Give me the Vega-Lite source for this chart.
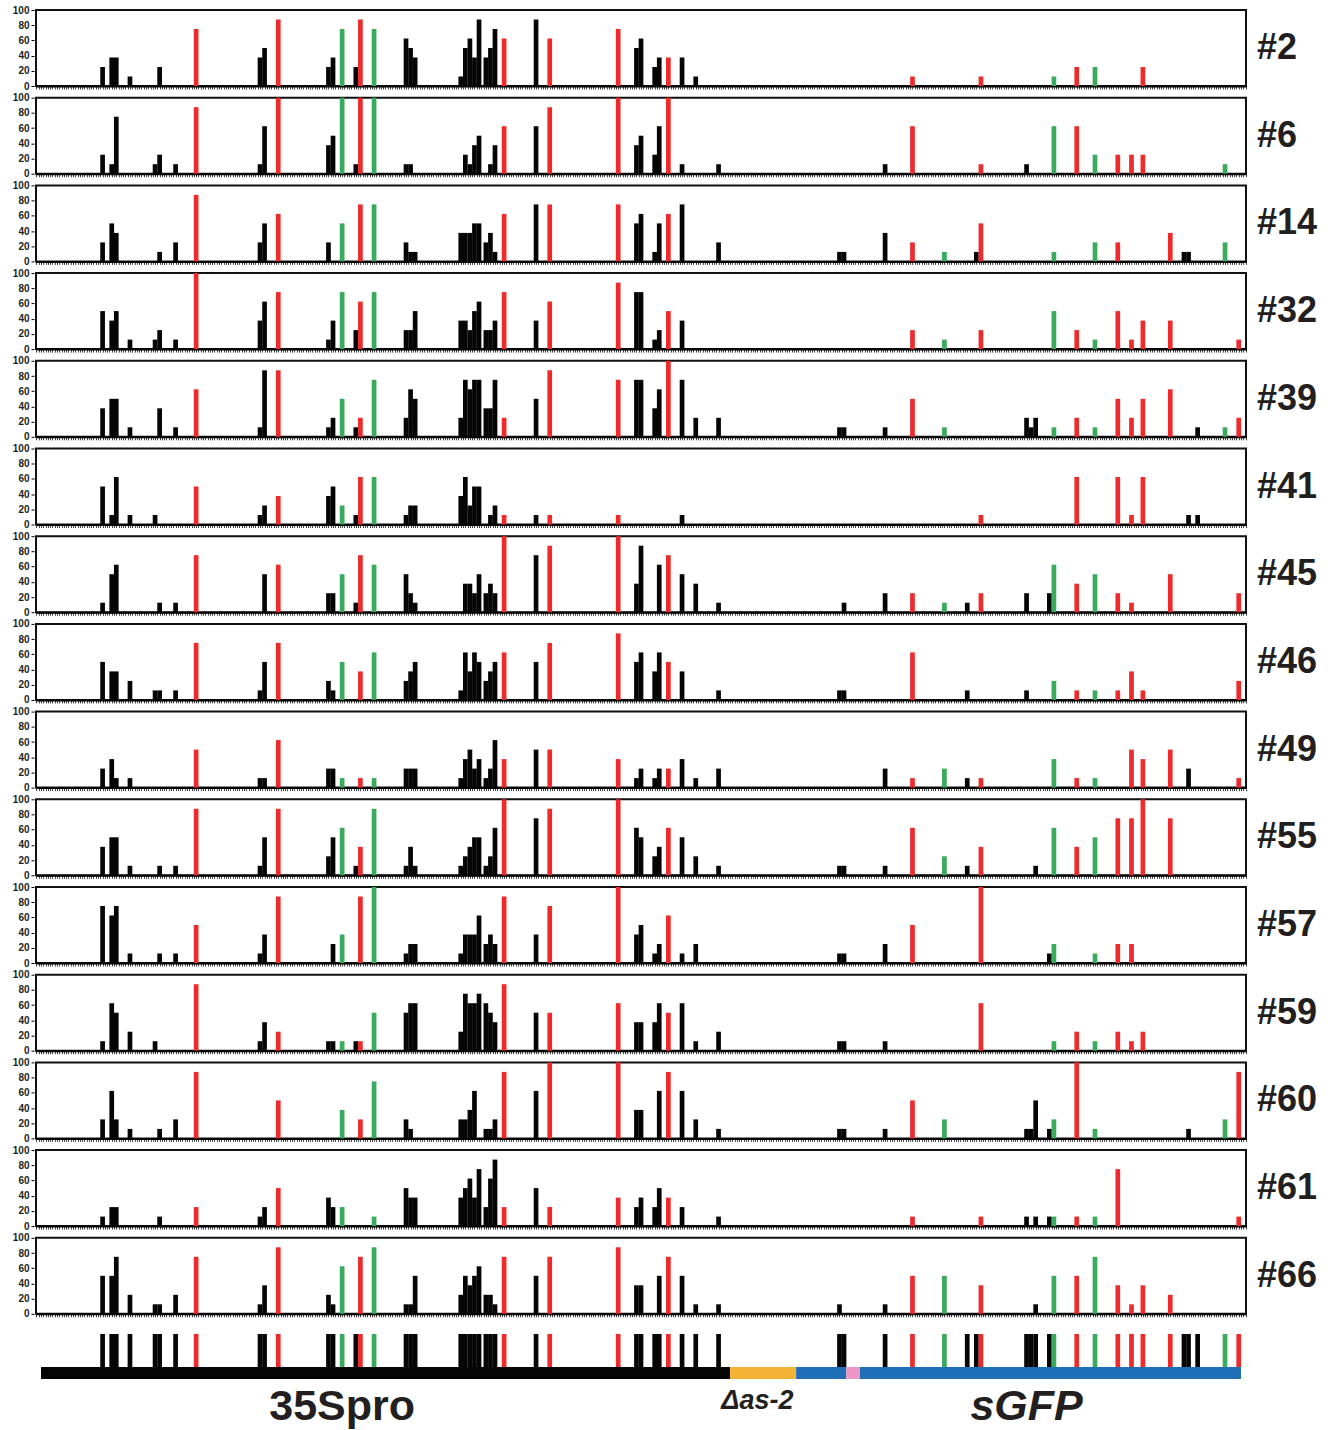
{
"$schema": "https://vega.github.io/schema/vega-lite/v6.json",
"background": "white",
"padding": {"left": 12, "top": 5, "right": 0, "bottom": 0},
"config": {
  "font": "Liberation Sans",
  "view": {"stroke": "#111111", "strokeWidth": 2},
  "axis": {"labelFont": "Liberation Sans", "labelColor": "#231f20", "grid": false}
},
"datasets": {
"sites": [
{"p":27,"t":"CG"},{"p":31,"t":"CG"},{"p":33,"t":"CG"},{"p":39,"t":"CG"},{"p":50,"t":"CG"},{"p":52,"t":"CG"},{"p":59,"t":"CG"},{"p":68,"t":"CHH"},{"p":96,"t":"CG"},{"p":98,"t":"CG"},{"p":104,"t":"CHH"},{"p":126,"t":"CG"},{"p":128,"t":"CG"},{"p":132,"t":"CHG"},{"p":138,"t":"CG"},{"p":140,"t":"CHH"},{"p":146,"t":"CHG"},{"p":160,"t":"CG"},{"p":162,"t":"CG"},{"p":164,"t":"CG"},{"p":184,"t":"CG"},{"p":186,"t":"CG"},{"p":188,"t":"CG"},{"p":190,"t":"CG"},{"p":192,"t":"CG"},{"p":195,"t":"CG"},{"p":197,"t":"CG"},{"p":199,"t":"CG"},{"p":203,"t":"CHH"},{"p":217,"t":"CG"},{"p":223,"t":"CHH"},{"p":253,"t":"CHH"},{"p":261,"t":"CG"},{"p":263,"t":"CG"},{"p":269,"t":"CG"},{"p":271,"t":"CG"},{"p":275,"t":"CHH"},{"p":281,"t":"CG"},{"p":287,"t":"CG"},{"p":297,"t":"CG"},{"p":350,"t":"CG"},{"p":352,"t":"CG"},{"p":370,"t":"CG"},{"p":382,"t":"CHH"},{"p":396,"t":"CHG"},{"p":406,"t":"CG"},{"p":410,"t":"CG"},{"p":412,"t":"CHH"},{"p":432,"t":"CG"},{"p":434,"t":"CG"},{"p":436,"t":"CG"},{"p":442,"t":"CG"},{"p":444,"t":"CHG"},{"p":454,"t":"CHH"},{"p":462,"t":"CHG"},{"p":472,"t":"CHH"},{"p":478,"t":"CHH"},{"p":483,"t":"CHH"},{"p":495,"t":"CHH"},{"p":501,"t":"CG"},{"p":503,"t":"CG"},{"p":507,"t":"CG"},{"p":519,"t":"CHG"},{"p":525,"t":"CHH"}
],
"parts": [
{"s":0,"e":302,"part":"35Spro"},{"s":302,"e":331,"part":"as2"},{"s":331,"e":353,"part":"sGFP"},{"s":353,"e":359,"part":"linker"},{"s":359,"e":526,"part":"sGFP"}
],
"bars": [
{"c":"#2","p":27,"v":25},{"c":"#2","p":31,"v":37.5},{"c":"#2","p":33,"v":37.5},{"c":"#2","p":39,"v":12.5},{"c":"#2","p":52,"v":25},{"c":"#2","p":68,"v":75},{"c":"#2","p":96,"v":37.5},{"c":"#2","p":98,"v":50},{"c":"#2","p":104,"v":87.5},{"c":"#2","p":126,"v":25},{"c":"#2","p":128,"v":37.5},{"c":"#2","p":132,"v":75},{"c":"#2","p":138,"v":25},{"c":"#2","p":140,"v":87.5},{"c":"#2","p":146,"v":75},{"c":"#2","p":160,"v":62.5},{"c":"#2","p":162,"v":50},{"c":"#2","p":164,"v":37.5},{"c":"#2","p":184,"v":12.5},{"c":"#2","p":186,"v":50},{"c":"#2","p":188,"v":62.5},{"c":"#2","p":190,"v":37.5},{"c":"#2","p":192,"v":87.5},{"c":"#2","p":195,"v":37.5},{"c":"#2","p":197,"v":50},{"c":"#2","p":199,"v":75},{"c":"#2","p":203,"v":62.5},{"c":"#2","p":217,"v":87.5},{"c":"#2","p":223,"v":62.5},{"c":"#2","p":253,"v":75},{"c":"#2","p":261,"v":50},{"c":"#2","p":263,"v":62.5},{"c":"#2","p":269,"v":25},{"c":"#2","p":271,"v":37.5},{"c":"#2","p":275,"v":37.5},{"c":"#2","p":281,"v":37.5},{"c":"#2","p":287,"v":12.5},{"c":"#2","p":382,"v":12.5},{"c":"#2","p":412,"v":12.5},{"c":"#2","p":444,"v":12.5},{"c":"#2","p":454,"v":25},{"c":"#2","p":462,"v":25},{"c":"#2","p":483,"v":25},
{"c":"#6","p":27,"v":25},{"c":"#6","p":31,"v":12.5},{"c":"#6","p":33,"v":75},{"c":"#6","p":50,"v":12.5},{"c":"#6","p":52,"v":25},{"c":"#6","p":59,"v":12.5},{"c":"#6","p":68,"v":87.5},{"c":"#6","p":96,"v":12.5},{"c":"#6","p":98,"v":62.5},{"c":"#6","p":104,"v":100},{"c":"#6","p":126,"v":37.5},{"c":"#6","p":128,"v":50},{"c":"#6","p":132,"v":100},{"c":"#6","p":138,"v":12.5},{"c":"#6","p":140,"v":100},{"c":"#6","p":146,"v":100},{"c":"#6","p":160,"v":12.5},{"c":"#6","p":162,"v":12.5},{"c":"#6","p":186,"v":25},{"c":"#6","p":188,"v":12.5},{"c":"#6","p":190,"v":37.5},{"c":"#6","p":192,"v":50},{"c":"#6","p":197,"v":12.5},{"c":"#6","p":199,"v":37.5},{"c":"#6","p":203,"v":62.5},{"c":"#6","p":217,"v":62.5},{"c":"#6","p":223,"v":87.5},{"c":"#6","p":253,"v":100},{"c":"#6","p":261,"v":37.5},{"c":"#6","p":263,"v":50},{"c":"#6","p":269,"v":25},{"c":"#6","p":271,"v":62.5},{"c":"#6","p":275,"v":100},{"c":"#6","p":281,"v":12.5},{"c":"#6","p":297,"v":12.5},{"c":"#6","p":370,"v":12.5},{"c":"#6","p":382,"v":62.5},{"c":"#6","p":412,"v":12.5},{"c":"#6","p":432,"v":12.5},{"c":"#6","p":444,"v":62.5},{"c":"#6","p":454,"v":62.5},{"c":"#6","p":462,"v":25},{"c":"#6","p":472,"v":25},{"c":"#6","p":478,"v":25},{"c":"#6","p":483,"v":25},{"c":"#6","p":519,"v":12.5},
{"c":"#14","p":27,"v":25},{"c":"#14","p":31,"v":50},{"c":"#14","p":33,"v":37.5},{"c":"#14","p":52,"v":12.5},{"c":"#14","p":59,"v":25},{"c":"#14","p":68,"v":87.5},{"c":"#14","p":96,"v":25},{"c":"#14","p":98,"v":50},{"c":"#14","p":104,"v":62.5},{"c":"#14","p":126,"v":25},{"c":"#14","p":132,"v":50},{"c":"#14","p":140,"v":75},{"c":"#14","p":146,"v":75},{"c":"#14","p":160,"v":25},{"c":"#14","p":162,"v":12.5},{"c":"#14","p":164,"v":12.5},{"c":"#14","p":184,"v":37.5},{"c":"#14","p":186,"v":37.5},{"c":"#14","p":188,"v":37.5},{"c":"#14","p":190,"v":50},{"c":"#14","p":192,"v":50},{"c":"#14","p":195,"v":25},{"c":"#14","p":197,"v":37.5},{"c":"#14","p":199,"v":12.5},{"c":"#14","p":203,"v":62.5},{"c":"#14","p":217,"v":75},{"c":"#14","p":223,"v":75},{"c":"#14","p":253,"v":75},{"c":"#14","p":261,"v":50},{"c":"#14","p":263,"v":62.5},{"c":"#14","p":269,"v":12.5},{"c":"#14","p":271,"v":50},{"c":"#14","p":275,"v":62.5},{"c":"#14","p":281,"v":75},{"c":"#14","p":297,"v":25},{"c":"#14","p":350,"v":12.5},{"c":"#14","p":352,"v":12.5},{"c":"#14","p":370,"v":37.5},{"c":"#14","p":382,"v":25},{"c":"#14","p":396,"v":12.5},{"c":"#14","p":410,"v":12.5},{"c":"#14","p":412,"v":50},{"c":"#14","p":444,"v":12.5},{"c":"#14","p":462,"v":25},{"c":"#14","p":472,"v":25},{"c":"#14","p":495,"v":37.5},{"c":"#14","p":501,"v":12.5},{"c":"#14","p":503,"v":12.5},{"c":"#14","p":519,"v":25},
{"c":"#32","p":27,"v":50},{"c":"#32","p":31,"v":37.5},{"c":"#32","p":33,"v":50},{"c":"#32","p":39,"v":12.5},{"c":"#32","p":50,"v":12.5},{"c":"#32","p":52,"v":25},{"c":"#32","p":59,"v":12.5},{"c":"#32","p":68,"v":100},{"c":"#32","p":96,"v":37.5},{"c":"#32","p":98,"v":62.5},{"c":"#32","p":104,"v":75},{"c":"#32","p":126,"v":12.5},{"c":"#32","p":128,"v":37.5},{"c":"#32","p":132,"v":75},{"c":"#32","p":138,"v":25},{"c":"#32","p":140,"v":62.5},{"c":"#32","p":146,"v":75},{"c":"#32","p":160,"v":25},{"c":"#32","p":162,"v":25},{"c":"#32","p":164,"v":50},{"c":"#32","p":184,"v":37.5},{"c":"#32","p":186,"v":37.5},{"c":"#32","p":188,"v":25},{"c":"#32","p":190,"v":50},{"c":"#32","p":192,"v":62.5},{"c":"#32","p":195,"v":25},{"c":"#32","p":197,"v":25},{"c":"#32","p":199,"v":37.5},{"c":"#32","p":203,"v":75},{"c":"#32","p":217,"v":37.5},{"c":"#32","p":223,"v":62.5},{"c":"#32","p":253,"v":87.5},{"c":"#32","p":261,"v":75},{"c":"#32","p":263,"v":75},{"c":"#32","p":269,"v":12.5},{"c":"#32","p":271,"v":25},{"c":"#32","p":275,"v":50},{"c":"#32","p":281,"v":37.5},{"c":"#32","p":382,"v":25},{"c":"#32","p":396,"v":12.5},{"c":"#32","p":412,"v":25},{"c":"#32","p":444,"v":50},{"c":"#32","p":454,"v":25},{"c":"#32","p":462,"v":12.5},{"c":"#32","p":472,"v":50},{"c":"#32","p":478,"v":12.5},{"c":"#32","p":483,"v":37.5},{"c":"#32","p":495,"v":37.5},{"c":"#32","p":525,"v":12.5},
{"c":"#39","p":27,"v":37.5},{"c":"#39","p":31,"v":50},{"c":"#39","p":33,"v":50},{"c":"#39","p":39,"v":12.5},{"c":"#39","p":52,"v":37.5},{"c":"#39","p":59,"v":12.5},{"c":"#39","p":68,"v":62.5},{"c":"#39","p":96,"v":12.5},{"c":"#39","p":98,"v":87.5},{"c":"#39","p":104,"v":87.5},{"c":"#39","p":126,"v":12.5},{"c":"#39","p":128,"v":25},{"c":"#39","p":132,"v":50},{"c":"#39","p":138,"v":12.5},{"c":"#39","p":140,"v":25},{"c":"#39","p":146,"v":75},{"c":"#39","p":160,"v":25},{"c":"#39","p":162,"v":62.5},{"c":"#39","p":164,"v":50},{"c":"#39","p":184,"v":25},{"c":"#39","p":186,"v":75},{"c":"#39","p":188,"v":62.5},{"c":"#39","p":190,"v":75},{"c":"#39","p":192,"v":75},{"c":"#39","p":195,"v":37.5},{"c":"#39","p":197,"v":37.5},{"c":"#39","p":199,"v":75},{"c":"#39","p":203,"v":25},{"c":"#39","p":217,"v":50},{"c":"#39","p":223,"v":87.5},{"c":"#39","p":253,"v":75},{"c":"#39","p":261,"v":75},{"c":"#39","p":263,"v":75},{"c":"#39","p":269,"v":37.5},{"c":"#39","p":271,"v":62.5},{"c":"#39","p":275,"v":100},{"c":"#39","p":281,"v":75},{"c":"#39","p":287,"v":25},{"c":"#39","p":297,"v":25},{"c":"#39","p":350,"v":12.5},{"c":"#39","p":352,"v":12.5},{"c":"#39","p":370,"v":12.5},{"c":"#39","p":382,"v":50},{"c":"#39","p":396,"v":12.5},{"c":"#39","p":432,"v":25},{"c":"#39","p":434,"v":12.5},{"c":"#39","p":436,"v":25},{"c":"#39","p":444,"v":12.5},{"c":"#39","p":454,"v":25},{"c":"#39","p":462,"v":12.5},{"c":"#39","p":472,"v":50},{"c":"#39","p":478,"v":25},{"c":"#39","p":483,"v":50},{"c":"#39","p":495,"v":62.5},{"c":"#39","p":507,"v":12.5},{"c":"#39","p":519,"v":12.5},{"c":"#39","p":525,"v":25},
{"c":"#41","p":27,"v":50},{"c":"#41","p":31,"v":12.5},{"c":"#41","p":33,"v":62.5},{"c":"#41","p":39,"v":12.5},{"c":"#41","p":50,"v":12.5},{"c":"#41","p":68,"v":50},{"c":"#41","p":96,"v":12.5},{"c":"#41","p":98,"v":25},{"c":"#41","p":104,"v":37.5},{"c":"#41","p":126,"v":37.5},{"c":"#41","p":128,"v":50},{"c":"#41","p":132,"v":25},{"c":"#41","p":138,"v":12.5},{"c":"#41","p":140,"v":62.5},{"c":"#41","p":146,"v":62.5},{"c":"#41","p":160,"v":12.5},{"c":"#41","p":162,"v":25},{"c":"#41","p":164,"v":25},{"c":"#41","p":184,"v":37.5},{"c":"#41","p":186,"v":62.5},{"c":"#41","p":188,"v":25},{"c":"#41","p":190,"v":50},{"c":"#41","p":192,"v":50},{"c":"#41","p":197,"v":12.5},{"c":"#41","p":199,"v":25},{"c":"#41","p":203,"v":12.5},{"c":"#41","p":217,"v":12.5},{"c":"#41","p":223,"v":12.5},{"c":"#41","p":253,"v":12.5},{"c":"#41","p":281,"v":12.5},{"c":"#41","p":412,"v":12.5},{"c":"#41","p":454,"v":62.5},{"c":"#41","p":472,"v":62.5},{"c":"#41","p":478,"v":12.5},{"c":"#41","p":483,"v":62.5},{"c":"#41","p":503,"v":12.5},{"c":"#41","p":507,"v":12.5},
{"c":"#45","p":27,"v":12.5},{"c":"#45","p":31,"v":50},{"c":"#45","p":33,"v":62.5},{"c":"#45","p":52,"v":12.5},{"c":"#45","p":59,"v":12.5},{"c":"#45","p":68,"v":75},{"c":"#45","p":98,"v":50},{"c":"#45","p":104,"v":62.5},{"c":"#45","p":126,"v":25},{"c":"#45","p":128,"v":25},{"c":"#45","p":132,"v":50},{"c":"#45","p":138,"v":12.5},{"c":"#45","p":140,"v":75},{"c":"#45","p":146,"v":62.5},{"c":"#45","p":160,"v":50},{"c":"#45","p":162,"v":25},{"c":"#45","p":164,"v":12.5},{"c":"#45","p":186,"v":37.5},{"c":"#45","p":188,"v":37.5},{"c":"#45","p":190,"v":25},{"c":"#45","p":192,"v":50},{"c":"#45","p":195,"v":25},{"c":"#45","p":197,"v":37.5},{"c":"#45","p":199,"v":25},{"c":"#45","p":203,"v":100},{"c":"#45","p":217,"v":75},{"c":"#45","p":223,"v":87.5},{"c":"#45","p":253,"v":100},{"c":"#45","p":261,"v":37.5},{"c":"#45","p":263,"v":87.5},{"c":"#45","p":271,"v":62.5},{"c":"#45","p":275,"v":75},{"c":"#45","p":281,"v":50},{"c":"#45","p":287,"v":37.5},{"c":"#45","p":297,"v":12.5},{"c":"#45","p":352,"v":12.5},{"c":"#45","p":370,"v":25},{"c":"#45","p":382,"v":25},{"c":"#45","p":396,"v":12.5},{"c":"#45","p":406,"v":12.5},{"c":"#45","p":412,"v":25},{"c":"#45","p":432,"v":25},{"c":"#45","p":442,"v":25},{"c":"#45","p":444,"v":62.5},{"c":"#45","p":454,"v":37.5},{"c":"#45","p":462,"v":50},{"c":"#45","p":472,"v":25},{"c":"#45","p":478,"v":12.5},{"c":"#45","p":495,"v":50},{"c":"#45","p":525,"v":25},
{"c":"#46","p":27,"v":50},{"c":"#46","p":31,"v":37.5},{"c":"#46","p":33,"v":37.5},{"c":"#46","p":39,"v":25},{"c":"#46","p":50,"v":12.5},{"c":"#46","p":52,"v":12.5},{"c":"#46","p":59,"v":12.5},{"c":"#46","p":68,"v":75},{"c":"#46","p":96,"v":12.5},{"c":"#46","p":98,"v":50},{"c":"#46","p":104,"v":75},{"c":"#46","p":126,"v":25},{"c":"#46","p":128,"v":12.5},{"c":"#46","p":132,"v":50},{"c":"#46","p":140,"v":37.5},{"c":"#46","p":146,"v":62.5},{"c":"#46","p":160,"v":25},{"c":"#46","p":162,"v":37.5},{"c":"#46","p":164,"v":50},{"c":"#46","p":184,"v":12.5},{"c":"#46","p":186,"v":62.5},{"c":"#46","p":188,"v":37.5},{"c":"#46","p":190,"v":62.5},{"c":"#46","p":192,"v":50},{"c":"#46","p":195,"v":25},{"c":"#46","p":197,"v":37.5},{"c":"#46","p":199,"v":50},{"c":"#46","p":203,"v":62.5},{"c":"#46","p":217,"v":50},{"c":"#46","p":223,"v":75},{"c":"#46","p":253,"v":87.5},{"c":"#46","p":261,"v":50},{"c":"#46","p":263,"v":62.5},{"c":"#46","p":269,"v":37.5},{"c":"#46","p":271,"v":62.5},{"c":"#46","p":275,"v":50},{"c":"#46","p":281,"v":37.5},{"c":"#46","p":297,"v":12.5},{"c":"#46","p":350,"v":12.5},{"c":"#46","p":352,"v":12.5},{"c":"#46","p":382,"v":62.5},{"c":"#46","p":406,"v":12.5},{"c":"#46","p":432,"v":12.5},{"c":"#46","p":444,"v":25},{"c":"#46","p":454,"v":12.5},{"c":"#46","p":462,"v":12.5},{"c":"#46","p":472,"v":12.5},{"c":"#46","p":478,"v":37.5},{"c":"#46","p":483,"v":12.5},{"c":"#46","p":525,"v":25},
{"c":"#49","p":27,"v":25},{"c":"#49","p":31,"v":37.5},{"c":"#49","p":33,"v":12.5},{"c":"#49","p":39,"v":12.5},{"c":"#49","p":68,"v":50},{"c":"#49","p":96,"v":12.5},{"c":"#49","p":98,"v":12.5},{"c":"#49","p":104,"v":62.5},{"c":"#49","p":126,"v":25},{"c":"#49","p":128,"v":25},{"c":"#49","p":132,"v":12.5},{"c":"#49","p":140,"v":12.5},{"c":"#49","p":146,"v":12.5},{"c":"#49","p":160,"v":25},{"c":"#49","p":162,"v":25},{"c":"#49","p":164,"v":25},{"c":"#49","p":184,"v":12.5},{"c":"#49","p":186,"v":37.5},{"c":"#49","p":188,"v":50},{"c":"#49","p":190,"v":25},{"c":"#49","p":192,"v":37.5},{"c":"#49","p":195,"v":12.5},{"c":"#49","p":197,"v":25},{"c":"#49","p":199,"v":62.5},{"c":"#49","p":203,"v":37.5},{"c":"#49","p":217,"v":50},{"c":"#49","p":223,"v":50},{"c":"#49","p":253,"v":37.5},{"c":"#49","p":261,"v":12.5},{"c":"#49","p":263,"v":25},{"c":"#49","p":269,"v":12.5},{"c":"#49","p":271,"v":25},{"c":"#49","p":275,"v":25},{"c":"#49","p":281,"v":37.5},{"c":"#49","p":287,"v":12.5},{"c":"#49","p":297,"v":25},{"c":"#49","p":370,"v":25},{"c":"#49","p":382,"v":12.5},{"c":"#49","p":396,"v":25},{"c":"#49","p":406,"v":12.5},{"c":"#49","p":412,"v":12.5},{"c":"#49","p":444,"v":37.5},{"c":"#49","p":454,"v":12.5},{"c":"#49","p":462,"v":12.5},{"c":"#49","p":478,"v":50},{"c":"#49","p":483,"v":37.5},{"c":"#49","p":495,"v":50},{"c":"#49","p":503,"v":25},{"c":"#49","p":525,"v":12.5},
{"c":"#55","p":27,"v":37.5},{"c":"#55","p":31,"v":50},{"c":"#55","p":33,"v":50},{"c":"#55","p":39,"v":12.5},{"c":"#55","p":52,"v":12.5},{"c":"#55","p":59,"v":12.5},{"c":"#55","p":68,"v":87.5},{"c":"#55","p":96,"v":12.5},{"c":"#55","p":98,"v":50},{"c":"#55","p":104,"v":87.5},{"c":"#55","p":126,"v":25},{"c":"#55","p":128,"v":50},{"c":"#55","p":132,"v":62.5},{"c":"#55","p":138,"v":12.5},{"c":"#55","p":140,"v":37.5},{"c":"#55","p":146,"v":87.5},{"c":"#55","p":160,"v":12.5},{"c":"#55","p":162,"v":37.5},{"c":"#55","p":164,"v":12.5},{"c":"#55","p":184,"v":12.5},{"c":"#55","p":186,"v":25},{"c":"#55","p":188,"v":37.5},{"c":"#55","p":190,"v":50},{"c":"#55","p":192,"v":50},{"c":"#55","p":195,"v":12.5},{"c":"#55","p":197,"v":25},{"c":"#55","p":199,"v":62.5},{"c":"#55","p":203,"v":100},{"c":"#55","p":217,"v":75},{"c":"#55","p":223,"v":87.5},{"c":"#55","p":253,"v":100},{"c":"#55","p":261,"v":62.5},{"c":"#55","p":263,"v":50},{"c":"#55","p":269,"v":25},{"c":"#55","p":271,"v":37.5},{"c":"#55","p":275,"v":62.5},{"c":"#55","p":281,"v":50},{"c":"#55","p":287,"v":25},{"c":"#55","p":297,"v":12.5},{"c":"#55","p":350,"v":12.5},{"c":"#55","p":352,"v":12.5},{"c":"#55","p":370,"v":12.5},{"c":"#55","p":382,"v":62.5},{"c":"#55","p":396,"v":25},{"c":"#55","p":406,"v":12.5},{"c":"#55","p":412,"v":37.5},{"c":"#55","p":436,"v":12.5},{"c":"#55","p":444,"v":62.5},{"c":"#55","p":454,"v":37.5},{"c":"#55","p":462,"v":50},{"c":"#55","p":472,"v":75},{"c":"#55","p":478,"v":75},{"c":"#55","p":483,"v":100},{"c":"#55","p":495,"v":75},
{"c":"#57","p":27,"v":75},{"c":"#57","p":31,"v":62.5},{"c":"#57","p":33,"v":75},{"c":"#57","p":39,"v":12.5},{"c":"#57","p":52,"v":12.5},{"c":"#57","p":59,"v":12.5},{"c":"#57","p":68,"v":50},{"c":"#57","p":96,"v":12.5},{"c":"#57","p":98,"v":37.5},{"c":"#57","p":104,"v":87.5},{"c":"#57","p":128,"v":25},{"c":"#57","p":132,"v":37.5},{"c":"#57","p":140,"v":87.5},{"c":"#57","p":146,"v":100},{"c":"#57","p":160,"v":12.5},{"c":"#57","p":162,"v":25},{"c":"#57","p":164,"v":25},{"c":"#57","p":184,"v":12.5},{"c":"#57","p":186,"v":37.5},{"c":"#57","p":188,"v":37.5},{"c":"#57","p":190,"v":37.5},{"c":"#57","p":192,"v":62.5},{"c":"#57","p":195,"v":25},{"c":"#57","p":197,"v":37.5},{"c":"#57","p":199,"v":25},{"c":"#57","p":203,"v":87.5},{"c":"#57","p":217,"v":37.5},{"c":"#57","p":223,"v":75},{"c":"#57","p":253,"v":100},{"c":"#57","p":261,"v":37.5},{"c":"#57","p":263,"v":50},{"c":"#57","p":269,"v":12.5},{"c":"#57","p":271,"v":25},{"c":"#57","p":275,"v":62.5},{"c":"#57","p":281,"v":12.5},{"c":"#57","p":287,"v":25},{"c":"#57","p":350,"v":12.5},{"c":"#57","p":352,"v":12.5},{"c":"#57","p":370,"v":25},{"c":"#57","p":382,"v":50},{"c":"#57","p":412,"v":100},{"c":"#57","p":442,"v":12.5},{"c":"#57","p":444,"v":25},{"c":"#57","p":462,"v":12.5},{"c":"#57","p":472,"v":25},{"c":"#57","p":478,"v":25},
{"c":"#59","p":27,"v":12.5},{"c":"#59","p":31,"v":62.5},{"c":"#59","p":33,"v":50},{"c":"#59","p":39,"v":25},{"c":"#59","p":50,"v":12.5},{"c":"#59","p":68,"v":87.5},{"c":"#59","p":96,"v":12.5},{"c":"#59","p":98,"v":37.5},{"c":"#59","p":104,"v":25},{"c":"#59","p":126,"v":12.5},{"c":"#59","p":128,"v":12.5},{"c":"#59","p":132,"v":12.5},{"c":"#59","p":138,"v":12.5},{"c":"#59","p":140,"v":12.5},{"c":"#59","p":146,"v":50},{"c":"#59","p":160,"v":50},{"c":"#59","p":162,"v":62.5},{"c":"#59","p":164,"v":62.5},{"c":"#59","p":184,"v":25},{"c":"#59","p":186,"v":75},{"c":"#59","p":188,"v":62.5},{"c":"#59","p":190,"v":62.5},{"c":"#59","p":192,"v":75},{"c":"#59","p":195,"v":62.5},{"c":"#59","p":197,"v":50},{"c":"#59","p":199,"v":37.5},{"c":"#59","p":203,"v":87.5},{"c":"#59","p":217,"v":50},{"c":"#59","p":223,"v":50},{"c":"#59","p":253,"v":62.5},{"c":"#59","p":261,"v":37.5},{"c":"#59","p":263,"v":37.5},{"c":"#59","p":269,"v":37.5},{"c":"#59","p":271,"v":62.5},{"c":"#59","p":275,"v":50},{"c":"#59","p":281,"v":62.5},{"c":"#59","p":287,"v":12.5},{"c":"#59","p":297,"v":25},{"c":"#59","p":350,"v":12.5},{"c":"#59","p":352,"v":12.5},{"c":"#59","p":370,"v":12.5},{"c":"#59","p":412,"v":62.5},{"c":"#59","p":444,"v":12.5},{"c":"#59","p":454,"v":25},{"c":"#59","p":462,"v":12.5},{"c":"#59","p":472,"v":25},{"c":"#59","p":478,"v":12.5},{"c":"#59","p":483,"v":25},
{"c":"#60","p":27,"v":25},{"c":"#60","p":31,"v":62.5},{"c":"#60","p":33,"v":25},{"c":"#60","p":39,"v":12.5},{"c":"#60","p":52,"v":12.5},{"c":"#60","p":59,"v":25},{"c":"#60","p":68,"v":87.5},{"c":"#60","p":104,"v":50},{"c":"#60","p":132,"v":37.5},{"c":"#60","p":140,"v":25},{"c":"#60","p":146,"v":75},{"c":"#60","p":160,"v":25},{"c":"#60","p":162,"v":12.5},{"c":"#60","p":184,"v":25},{"c":"#60","p":186,"v":25},{"c":"#60","p":188,"v":37.5},{"c":"#60","p":190,"v":62.5},{"c":"#60","p":195,"v":12.5},{"c":"#60","p":197,"v":12.5},{"c":"#60","p":199,"v":25},{"c":"#60","p":203,"v":87.5},{"c":"#60","p":217,"v":62.5},{"c":"#60","p":223,"v":100},{"c":"#60","p":253,"v":100},{"c":"#60","p":261,"v":37.5},{"c":"#60","p":263,"v":37.5},{"c":"#60","p":271,"v":62.5},{"c":"#60","p":275,"v":87.5},{"c":"#60","p":281,"v":62.5},{"c":"#60","p":287,"v":25},{"c":"#60","p":297,"v":12.5},{"c":"#60","p":350,"v":12.5},{"c":"#60","p":352,"v":12.5},{"c":"#60","p":370,"v":12.5},{"c":"#60","p":382,"v":50},{"c":"#60","p":396,"v":25},{"c":"#60","p":432,"v":12.5},{"c":"#60","p":434,"v":12.5},{"c":"#60","p":436,"v":50},{"c":"#60","p":442,"v":12.5},{"c":"#60","p":444,"v":25},{"c":"#60","p":454,"v":100},{"c":"#60","p":462,"v":12.5},{"c":"#60","p":503,"v":12.5},{"c":"#60","p":519,"v":25},{"c":"#60","p":525,"v":87.5},
{"c":"#61","p":27,"v":12.5},{"c":"#61","p":31,"v":25},{"c":"#61","p":33,"v":25},{"c":"#61","p":52,"v":12.5},{"c":"#61","p":68,"v":25},{"c":"#61","p":96,"v":12.5},{"c":"#61","p":98,"v":25},{"c":"#61","p":104,"v":50},{"c":"#61","p":126,"v":37.5},{"c":"#61","p":128,"v":25},{"c":"#61","p":132,"v":25},{"c":"#61","p":146,"v":12.5},{"c":"#61","p":160,"v":50},{"c":"#61","p":162,"v":37.5},{"c":"#61","p":164,"v":37.5},{"c":"#61","p":184,"v":37.5},{"c":"#61","p":186,"v":50},{"c":"#61","p":188,"v":62.5},{"c":"#61","p":190,"v":37.5},{"c":"#61","p":192,"v":75},{"c":"#61","p":195,"v":25},{"c":"#61","p":197,"v":62.5},{"c":"#61","p":199,"v":87.5},{"c":"#61","p":203,"v":25},{"c":"#61","p":217,"v":50},{"c":"#61","p":223,"v":25},{"c":"#61","p":253,"v":37.5},{"c":"#61","p":261,"v":25},{"c":"#61","p":263,"v":37.5},{"c":"#61","p":269,"v":25},{"c":"#61","p":271,"v":50},{"c":"#61","p":275,"v":37.5},{"c":"#61","p":281,"v":25},{"c":"#61","p":297,"v":12.5},{"c":"#61","p":382,"v":12.5},{"c":"#61","p":412,"v":12.5},{"c":"#61","p":432,"v":12.5},{"c":"#61","p":436,"v":12.5},{"c":"#61","p":442,"v":12.5},{"c":"#61","p":444,"v":12.5},{"c":"#61","p":454,"v":12.5},{"c":"#61","p":462,"v":12.5},{"c":"#61","p":472,"v":75},{"c":"#61","p":525,"v":12.5},
{"c":"#66","p":27,"v":50},{"c":"#66","p":31,"v":50},{"c":"#66","p":33,"v":75},{"c":"#66","p":39,"v":25},{"c":"#66","p":50,"v":12.5},{"c":"#66","p":52,"v":12.5},{"c":"#66","p":59,"v":25},{"c":"#66","p":68,"v":75},{"c":"#66","p":96,"v":12.5},{"c":"#66","p":98,"v":37.5},{"c":"#66","p":104,"v":87.5},{"c":"#66","p":126,"v":25},{"c":"#66","p":128,"v":12.5},{"c":"#66","p":132,"v":62.5},{"c":"#66","p":140,"v":75},{"c":"#66","p":146,"v":87.5},{"c":"#66","p":160,"v":12.5},{"c":"#66","p":162,"v":12.5},{"c":"#66","p":164,"v":50},{"c":"#66","p":184,"v":25},{"c":"#66","p":186,"v":50},{"c":"#66","p":188,"v":37.5},{"c":"#66","p":190,"v":50},{"c":"#66","p":192,"v":62.5},{"c":"#66","p":195,"v":25},{"c":"#66","p":197,"v":25},{"c":"#66","p":199,"v":12.5},{"c":"#66","p":203,"v":75},{"c":"#66","p":217,"v":50},{"c":"#66","p":223,"v":75},{"c":"#66","p":253,"v":87.5},{"c":"#66","p":261,"v":37.5},{"c":"#66","p":263,"v":37.5},{"c":"#66","p":271,"v":50},{"c":"#66","p":275,"v":75},{"c":"#66","p":281,"v":50},{"c":"#66","p":287,"v":12.5},{"c":"#66","p":297,"v":12.5},{"c":"#66","p":350,"v":12.5},{"c":"#66","p":370,"v":12.5},{"c":"#66","p":382,"v":50},{"c":"#66","p":396,"v":50},{"c":"#66","p":412,"v":37.5},{"c":"#66","p":436,"v":12.5},{"c":"#66","p":444,"v":50},{"c":"#66","p":454,"v":50},{"c":"#66","p":462,"v":75},{"c":"#66","p":472,"v":37.5},{"c":"#66","p":478,"v":12.5},{"c":"#66","p":483,"v":37.5},{"c":"#66","p":495,"v":25}
]
},
"resolve": {"scale": {"x": "independent", "y": "independent"}},
"spacing": 4,
"vconcat": [
{
  "data": {"name": "bars"},
  "transform": [{"lookup": "p", "from": {"data": {"name": "sites"}, "key": "p", "fields": ["t"]}}],
  "facet": {"row": {"field": "c", "type": "nominal",
    "sort": ["#2","#6","#14","#32","#39","#41","#45","#46","#49","#55","#57","#59","#60","#61","#66"],
    "header": {"title": null, "labels": false}}},
  "spacing": 5.7,
  "resolve": {"axis": {"x": "independent"}},
  "spec": {
    "width": 1210, "height": 76,
    "layer": [
      {
        "mark": {"type": "bar", "width": 4.7},
        "encoding": {
          "x": {"field": "p", "type": "quantitative", "scale": {"domain": [0, 526], "nice": false, "zero": false},
            "axis": {"labels": false, "title": null, "tickCount": 526, "tickSize": 3, "tickColor": "#444444", "tickWidth": 1, "domainColor": "#000000", "domainWidth": 2, "grid": false}},
          "y": {"field": "v", "type": "quantitative", "scale": {"domain": [0, 100], "nice": false},
            "axis": {"values": [0, 20, 40, 60, 80, 100], "title": null, "grid": false, "labelFontSize": 10, "labelFontWeight": "bold", "labelOverlap": false, "labelBound": false, "tickSize": 3, "tickColor": "#000000", "labelPadding": 2, "domain": false}},
          "color": {"field": "t", "type": "nominal", "scale": {"domain": ["CG", "CHG", "CHH"], "range": ["#050505", "#3aaa5c", "#ee2a2a"]}, "legend": null}
        }
      },
      {
        "transform": [{"aggregate": [{"op": "count", "as": "n"}], "groupby": ["c"]}],
        "mark": {"type": "text", "font": "Liberation Sans", "fontSize": 36, "fontWeight": "bold", "color": "#231f20", "align": "left", "baseline": "middle"},
        "encoding": {
          "x": {"datum": 533, "type": "quantitative",
            "axis": {"labels": false, "title": null, "tickCount": 526, "tickSize": 3, "tickColor": "#444444", "tickWidth": 1, "domainColor": "#000000", "domainWidth": 2, "grid": false}},
          "y": {"datum": 50, "type": "quantitative",
            "axis": {"values": [0, 20, 40, 60, 80, 100], "title": null, "grid": false, "labelFontSize": 10, "labelFontWeight": "bold", "labelOverlap": false, "labelBound": false, "tickSize": 3, "tickColor": "#000000", "labelPadding": 2, "domain": false}},
          "text": {"field": "c"}
        }
      }
    ]
  }
},
{
  "width": 1210, "height": 100,
  "view": {"stroke": null},
  "layer": [
    {"data": {"name": "sites"},
     "mark": {"type": "bar", "width": 4.7},
     "encoding": {
       "x": {"field": "p", "type": "quantitative", "scale": {"domain": [0, 526], "nice": false, "zero": false}, "axis": null},
       "y": {"datum": 89, "type": "quantitative", "scale": {"domain": [0, 100], "nice": false}, "axis": null},
       "y2": {"datum": 56},
       "color": {"field": "t", "type": "nominal", "legend": null}
     }},
    {"data": {"name": "parts"},
     "mark": {"type": "bar"},
     "encoding": {
       "x": {"field": "s", "type": "quantitative"},
       "x2": {"field": "e"},
       "y": {"datum": 56, "type": "quantitative"},
       "y2": {"datum": 44},
       "fill": {"field": "part", "type": "nominal", "scale": {"domain": ["35Spro", "as2", "sGFP", "linker"], "range": ["#050505", "#f5b335", "#1f6fb6", "#ee95c4"]}, "legend": null}
     }},
    {"data": {"values": [{"label": "35Spro"}]},
     "mark": {"type": "text", "font": "Liberation Sans", "fontSize": 43, "fontWeight": "bold", "color": "#231f20", "baseline": "alphabetic"},
     "encoding": {"x": {"datum": 132, "type": "quantitative"}, "y": {"datum": 3, "type": "quantitative"}, "text": {"field": "label"}}},
    {"data": {"values": [{"label": "Δas-2"}]},
     "mark": {"type": "text", "font": "Liberation Sans", "fontSize": 27, "fontWeight": "bold", "fontStyle": "italic", "color": "#231f20", "baseline": "alphabetic"},
     "encoding": {"x": {"datum": 314, "type": "quantitative"}, "y": {"datum": 14, "type": "quantitative"}, "text": {"field": "label"}}},
    {"data": {"values": [{"label": "sGFP"}]},
     "mark": {"type": "text", "font": "Liberation Sans", "fontSize": 43, "fontWeight": "bold", "fontStyle": "italic", "color": "#231f20", "baseline": "alphabetic"},
     "encoding": {"x": {"datum": 432, "type": "quantitative"}, "y": {"datum": 3, "type": "quantitative"}, "text": {"field": "label"}}}
  ]
}
]
}
